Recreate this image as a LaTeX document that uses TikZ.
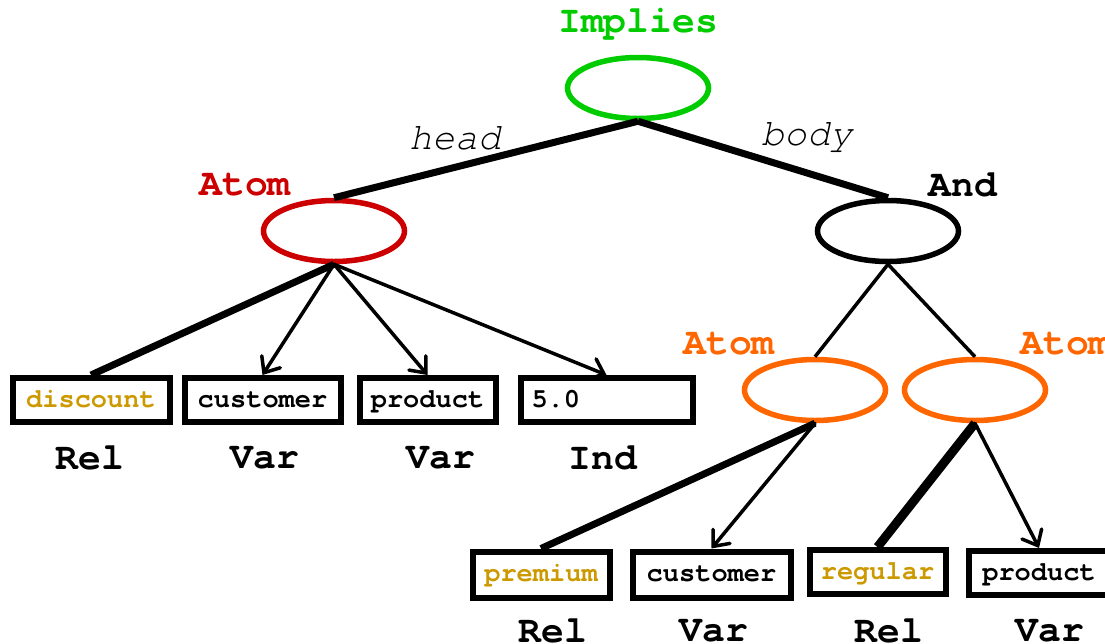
\documentclass[tikz,border=0pt]{standalone}
\usepackage{fontspec}
\setmonofont{TeX Gyre Cursor}
\usetikzlibrary{shapes.geometric,arrows.meta}
\definecolor{impl}{HTML}{00CC00}
\definecolor{headred}{HTML}{CC0000}
\definecolor{atomorange}{HTML}{FF6600}
\definecolor{relgold}{HTML}{CC9900}
\begin{document}
\begin{tikzpicture}[x=1pt, y=-1pt,
    main/.style = {draw, ellipse, line width=5.5pt, minimum width=141pt, minimum height=61pt, inner sep=0pt},
    box/.style = {draw, line width=6pt, minimum height=44pt, inner sep=0pt, text height=18pt, text depth=4pt, font=\fontsize{27}{27}\ttfamily\bfseries},
    lbl/.style = {font=\fontsize{38}{38}\ttfamily\bfseries, inner sep=0pt},
    role/.style = {font=\fontsize{38}{38}\ttfamily\itshape, inner sep=0pt},
    heavy/.style = {line width=7pt},
    arr/.style = {line width=3.5pt, line cap=round, -{Straight Barb[length=13pt, width=22pt, line cap=round]}}]
    \useasboundingbox (0,0) rectangle (1105,643);

    \node[main, impl] (1) at (638,88) {};
    \node[main, headred] (2) at (334,231) {};
    \node[main] (3) at (888,231) {};
    \node[main, atomorange] (4) at (815,390) {};
    \node[main, atomorange] (5) at (975,390) {};

    \node[lbl, impl] at (638,24) {Implies};
    \node[lbl, headred] at (245,185) {Atom};
    \node[lbl] at (963,185) {And};
    \node[lbl, atomorange] at (729,344) {Atom};
    \node[lbl, atomorange] at (1066,344) {Atom};
    \node[role] at (455,138) {head};
    \node[role] at (807,138) {body};

    \node[box, minimum width=157pt] (6) at (91,400) {\textcolor{relgold}{discount}};
    \node[box, minimum width=156pt] (7) at (262.5,400) {customer};
    \node[box, minimum width=136pt] (8) at (427.5,400) {product};
    \node[box, text width=150pt, inner xsep=11pt, align=left] (9) at (606.5,400) {5.0};
    \node[box, minimum width=137pt, minimum height=46pt] (10) at (541,574.5) {\textcolor{relgold}{premium}};
    \node[box, minimum width=158pt, minimum height=46pt] (11) at (711.5,574.5) {customer};
    \node[box, minimum width=136pt] (12) at (877.5,572) {\textcolor{relgold}{regular}};
    \node[box, minimum width=141pt] (13) at (1039,573) {product};

    \node[lbl] at (90,458) {Rel};
    \node[lbl] at (265,458) {Var};
    \node[lbl] at (441,458) {Var};
    \node[lbl] at (603,458) {Ind};
    \node[lbl] at (553,631) {Rel};
    \node[lbl] at (714,631) {Var};
    \node[lbl] at (889,631) {Rel};
    \node[lbl] at (1050,631) {Var};

    \draw[heavy] (1.south) -- (2.north);
    \draw[heavy] (1.south) -- (3.north);
    \draw[heavy] (2.south) -- (6.north);
    \draw[arr] (2.south) -- (7.north);
    \draw[arr] (2.south) -- (8.north);
    \draw[arr] (2.south) -- (9.north);
    \draw[line width=3.5pt] (3.south) -- (4.north);
    \draw[line width=3.5pt] (3.south) -- (5.north);
    \draw[heavy] (4.south) -- (10.north);
    \draw[arr] (4.south) -- (11.north);
    \draw[line width=9pt] (5.south) -- (12.north);
    \draw[arr] (5.south) -- (13.north);

\end{tikzpicture}
\end{document}
